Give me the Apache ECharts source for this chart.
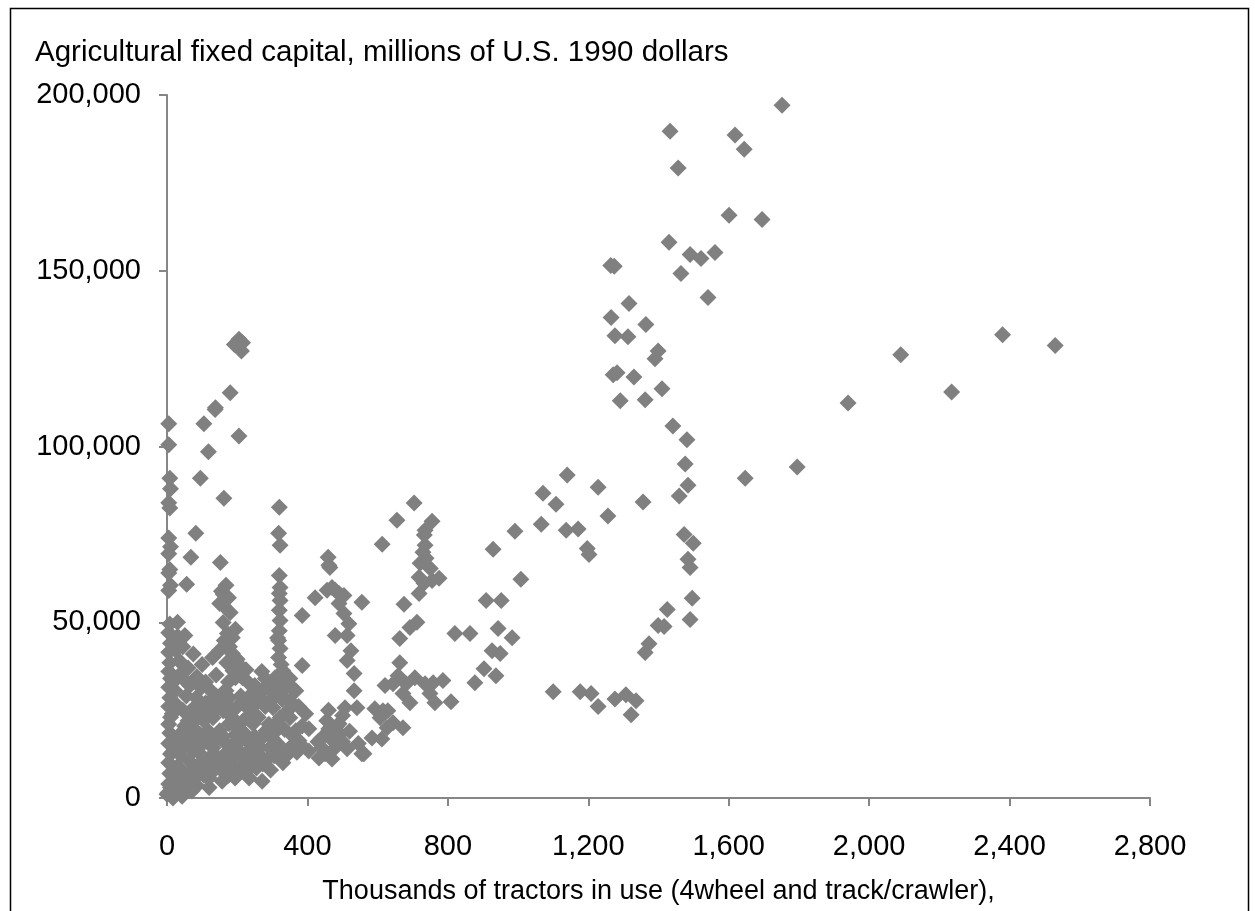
<!DOCTYPE html>
<html>
<head>
<meta charset="utf-8">
<title>Tractors and agricultural fixed capital</title>
<script src="https://cdn.jsdelivr.net/npm/echarts@6/dist/echarts.min.js"></script>
<style>
  html, body { margin: 0; padding: 0; background: #ffffff; }
  #chart { width: 1255px; height: 911px; }
</style>
</head>
<body>
<div id="chart"></div>
<script>
// Each point: [thousands of tractors in use, agricultural fixed capital (millions of 1990 US$)]

// Observations with almost no tractors, stacked along the vertical axis
const nearAxis = [
  [5,106500],[5,100500],[8,91000],[10,88000],[5,84000],[8,82500],[5,74000],[10,71500],
  [5,69500],[8,65000],[5,64000],[10,60500],[5,59000],[8,49500],[5,47000],[10,44000],
  [5,41500],[8,38500],[5,36000],[10,34000],[5,31500],[8,28500],[5,26000],[10,23000],
  [5,21000],[8,18500],[5,15500],[10,12500],[5,10000],[8,7000],[5,4000],[3,1500],
  [15,500],[25,2500],[20,6000],[30,9000],[15,13000],[25,16000],[15,24000],[22,27000],
  [18,33000],[25,42000],[30,46000],[35,39000],[20,30500]
];

// Small fleets (roughly 50-220 thousand tractors) reaching high capital values
const smallFleetHigh = [
  [137,110500],[105,106500],[205,103000],[118,98500],[95,91000],[162,85300],[82,75300],
  [68,68500],[152,67000],[56,60800],[155,58800],[205,130500],[215,129500],[212,127200],
  [192,129000],[180,115300],[138,111000],[160,58000],[160,54800],[180,52800],[160,49900],
  [172,46800],[186,45600],[163,44800],[186,41100],[150,55300],[188,36200],[195,34200],
  [215,34200],[170,38500],[200,39500],[178,43000],[195,48000],[175,57000],[168,60500]
];

// The column of observations near 320 thousand tractors
const column320 = [
  [320,82700],[318,75300],[322,71900],[320,63300],[322,59900],[320,58200],[322,56200],
  [320,53400],[322,50500],[320,47600],[318,44800],[322,42500],[318,40000],[325,38000],
  [315,45500],[328,28000]
];

// Dense block of low-capital, low-tractor observations
const lowCluster = [
  [51,46200],[40,38500],[23,30500],[168,30500],[177,28500],[150,27700],[117,26800],
  [97,31400],[83,28500],[74,25400],[97,24000],[131,22800],[160,24800],[197,25700],
  [236,27700],[265,28500],[217,22000],[245,21100],[177,21100],[150,19100],[117,19100],
  [83,19100],[54,17100],[45,14300],[74,13400],[102,15400],[131,14300],[168,15400],
  [208,16300],[236,15400],[265,14300],[282,19100],[311,21100],[322,22800],[302,25700],
  [293,30500],[308,34200],[330,36200],[339,31400],[350,27700],[367,30500],[385,37700],
  [350,22800],[367,19100],[376,16300],[350,14300],[322,12600],[293,14300],[273,9700],
  [236,9700],[208,8600],[177,10600],[150,9700],[120,11400],[91,8600],[63,10600],
  [35,8600],[23,5700],[51,5700],[80,5700],[120,5700],[157,4800],[194,5700],[234,5700],
  [271,4800],[214,11400],[251,11400],[404,13400],[433,11400],[441,14300],[461,19100],
  [490,21100],[0,1100],[17,0],[34,2000],[51,2800],[43,500],[71,2000],
  [60,22000],[110,33000],[140,35000],[250,32000],[280,34000],[300,17000],[330,10000],
  [200,20000],[230,33000],[260,23000],[120,3000],[90,13000],[140,29000],[190,12000],
  [100,38000],[75,41000],[110,27000],[350,34000],[270,36000]
];

// Further observations packed into the same low block
const lowClusterFill = [
  [10,3000],[30,4500],[45,7000],[60,4000],[70,8000],[85,3500],[95,10000],[105,6500],
  [115,9000],[130,7500],[140,12000],[155,8000],[165,12500],[175,6500],[185,9500],
  [200,7000],[210,13000],[225,7500],[240,12500],[255,8500],[265,12000],[285,11000],
  [295,8000],[305,12000],[315,15500],[340,12000],[360,17500],[370,13000],[385,20500],
  [395,24000],[40,12000],[55,15500],[65,18500],[80,16000],[95,18000],[110,16500],
  [125,17500],[140,16500],[160,17500],[185,15000],[195,18000],[220,18500],[230,13000],
  [250,17500],[270,17000],[290,21000],[305,18500],[335,19500],[345,25000],[330,28500],
  [315,31000],[300,28000],[280,26000],[270,30500],[255,27000],[240,24000],[225,26000],
  [210,29000],[185,23000],[170,26500],[160,30000],[145,25500],[130,27500],[120,24500],
  [105,22000],[90,26500],[80,22000],[65,24500],[50,20500],[35,18000],[45,25000],
  [55,29000],[65,32000],[85,34500],[120,31000],[175,33000],[205,38000],[225,36500],
  [240,29500],[300,32000],[325,34500],[355,31500],[375,26000],[30,50000],[45,43000],
  [35,35000],[50,33500],[60,37000],[130,40000],[150,42000]
];

// Mid-sized fleets, 380-560 thousand tractors
const midFleet = [
  [459,68500],[464,65600],[422,57000],[456,59100],[479,59100],[504,57600],[490,55300],
  [555,55700],[504,52500],[518,49600],[479,46200],[513,46200],[524,41900],[513,39100],
  [533,35400],[533,30500],[507,25700],[541,25700],[404,19700],[441,17100],[461,19700],
  [484,20500],[493,18300],[450,12600],[470,11100],[479,14300],[513,14000],[555,12600],
  [385,14800],[385,51900],[461,66200],[470,59900],[490,58200],[430,16000],[455,22000],
  [470,16500],[500,16000],[520,19000],[545,15500],[500,23500],[460,25000]
];

// Fleets of 560-820 thousand tractors
const largerFleet = [
  [704,83900],[655,79000],[755,78700],[735,76200],[613,72200],[733,74800],[735,71900],
  [729,69900],[738,68200],[721,66800],[750,65300],[775,62500],[718,62800],[732,61100],
  [718,58200],[755,61900],[675,55100],[712,50000],[692,48500],[663,45400],[663,38500],
  [658,34800],[621,32000],[644,32500],[672,29700],[706,34200],[681,32500],[735,32500],
  [758,32800],[786,33400],[809,27400],[749,29700],[763,27100],[692,27100],[592,25400],
  [615,24800],[629,24800],[607,22800],[644,21400],[672,20000],[584,17100],[612,16800],
  [627,20000],[561,12600]
];

// Fleets of 820-1,340 thousand tractors
const upperMidFleet = [
  [820,46800],[863,46800],[926,41900],[943,48200],[983,45600],[909,56200],[952,56200],
  [949,41100],[903,36800],[937,34800],[877,32800],[991,75900],[929,70800],[1008,62200],
  [1071,86700],[1066,77900],[1108,83600],[1140,91900],[1137,76200],[1171,76500],
  [1197,71000],[1202,69300],[1228,88400],[1256,80200],[1100,30200],[1177,30200],
  [1208,29700],[1228,26000],[1276,28200],[1307,29400],[1336,27700],[1322,23700]
];

// Large fleets with the highest capital stocks
const largeFleet = [
  [1752,197100],[1433,189700],[1618,188600],[1644,184600],[1456,179200],[1601,165800],
  [1695,164600],[1430,158100],[1490,154600],[1521,153500],[1561,155200],[1264,151500],
  [1274,151300],[1464,149200],[1541,142400],[1316,140700],[1265,136700],[1364,134700],
  [1276,131500],[1313,131200],[1399,127200],[1390,125000],[1271,120400],[1282,121000],
  [1330,119800],[1291,113000],[1362,113300],[1410,116400],[1441,105800],[1481,101900],
  [1476,95000],[1795,94200],[1647,91000],[1484,89000],[1459,85900],[1356,84200],
  [1473,75000],[1499,72500],[1484,67900],[1490,65600],[1496,56800],[1425,53600],
  [1490,50800],[1399,49100],[1416,48800],[1373,43900],[1362,41400]
];

// The largest fleets, beyond 1,900 thousand tractors
const veryLargeFleet = [
  [1940,112400],[2090,126100],[2235,115500],[2380,131800],[2530,128700]
];

// Axis settings
const xTicks = { min: 0, max: 2800, step: 400 };
const yTicks = { min: 0, max: 200000, step: 50000 };
const yTitle = 'Agricultural fixed capital, millions of U.S. 1990 dollars';
const xTitle = 'Thousands of tractors in use (4wheel and track/crawler),';

const points = [].concat(nearAxis, smallFleetHigh, column320, lowCluster, lowClusterFill,
  midFleet, largerFleet, upperMidFleet, largeFleet, veryLargeFleet);

const FONT = '"Liberation Sans", Arial, Helvetica, sans-serif';
const AXIS_GREY = '#868686';
const withCommas = v => Number(v).toLocaleString('en-US');

const chart = echarts.init(document.getElementById('chart'), null, { renderer: 'canvas' });

chart.setOption({
  animation: false,
  backgroundColor: '#ffffff',
  graphic: [
    {
      type: 'rect',
      left: 8, top: 6,
      shape: { width: 1238, height: 930 },
      style: { fill: 'none', stroke: '#000000', lineWidth: 1.5 },
      silent: true
    },
    {
      type: 'text',
      left: 35, top: 38,
      style: { text: yTitle, font: '29.5px ' + FONT, fill: '#000000' },
      silent: true
    }
  ],
  grid: { left: 167, right: 105, top: 95, bottom: 113, containLabel: false },
  xAxis: {
    type: 'value',
    min: xTicks.min, max: xTicks.max, interval: xTicks.step,
    name: xTitle,
    nameLocation: 'middle',
    nameGap: 80,
    nameTextStyle: { fontFamily: FONT, fontSize: 27, color: '#000000' },
    axisLine: { show: true, onZero: false, lineStyle: { color: AXIS_GREY, width: 2 } },
    axisTick: { show: true, inside: false, length: 8, lineStyle: { color: AXIS_GREY, width: 2 } },
    axisLabel: { fontFamily: FONT, fontSize: 29, color: '#000000', margin: 34, formatter: withCommas },
    splitLine: { show: false }
  },
  yAxis: {
    type: 'value',
    min: yTicks.min, max: yTicks.max, interval: yTicks.step,
    axisLine: { show: true, onZero: false, lineStyle: { color: AXIS_GREY, width: 2 } },
    axisTick: { show: true, inside: false, length: 8, lineStyle: { color: AXIS_GREY, width: 2 } },
    axisLabel: { fontFamily: FONT, fontSize: 29, color: '#000000', margin: 26, formatter: withCommas },
    splitLine: { show: false }
  },
  series: [{
    type: 'scatter',
    data: points,
    symbol: 'diamond',
    symbolSize: 17,
    itemStyle: { color: '#808080', opacity: 1 },
    emphasis: { disabled: true }
  }]
});
</script>
</body>
</html>
